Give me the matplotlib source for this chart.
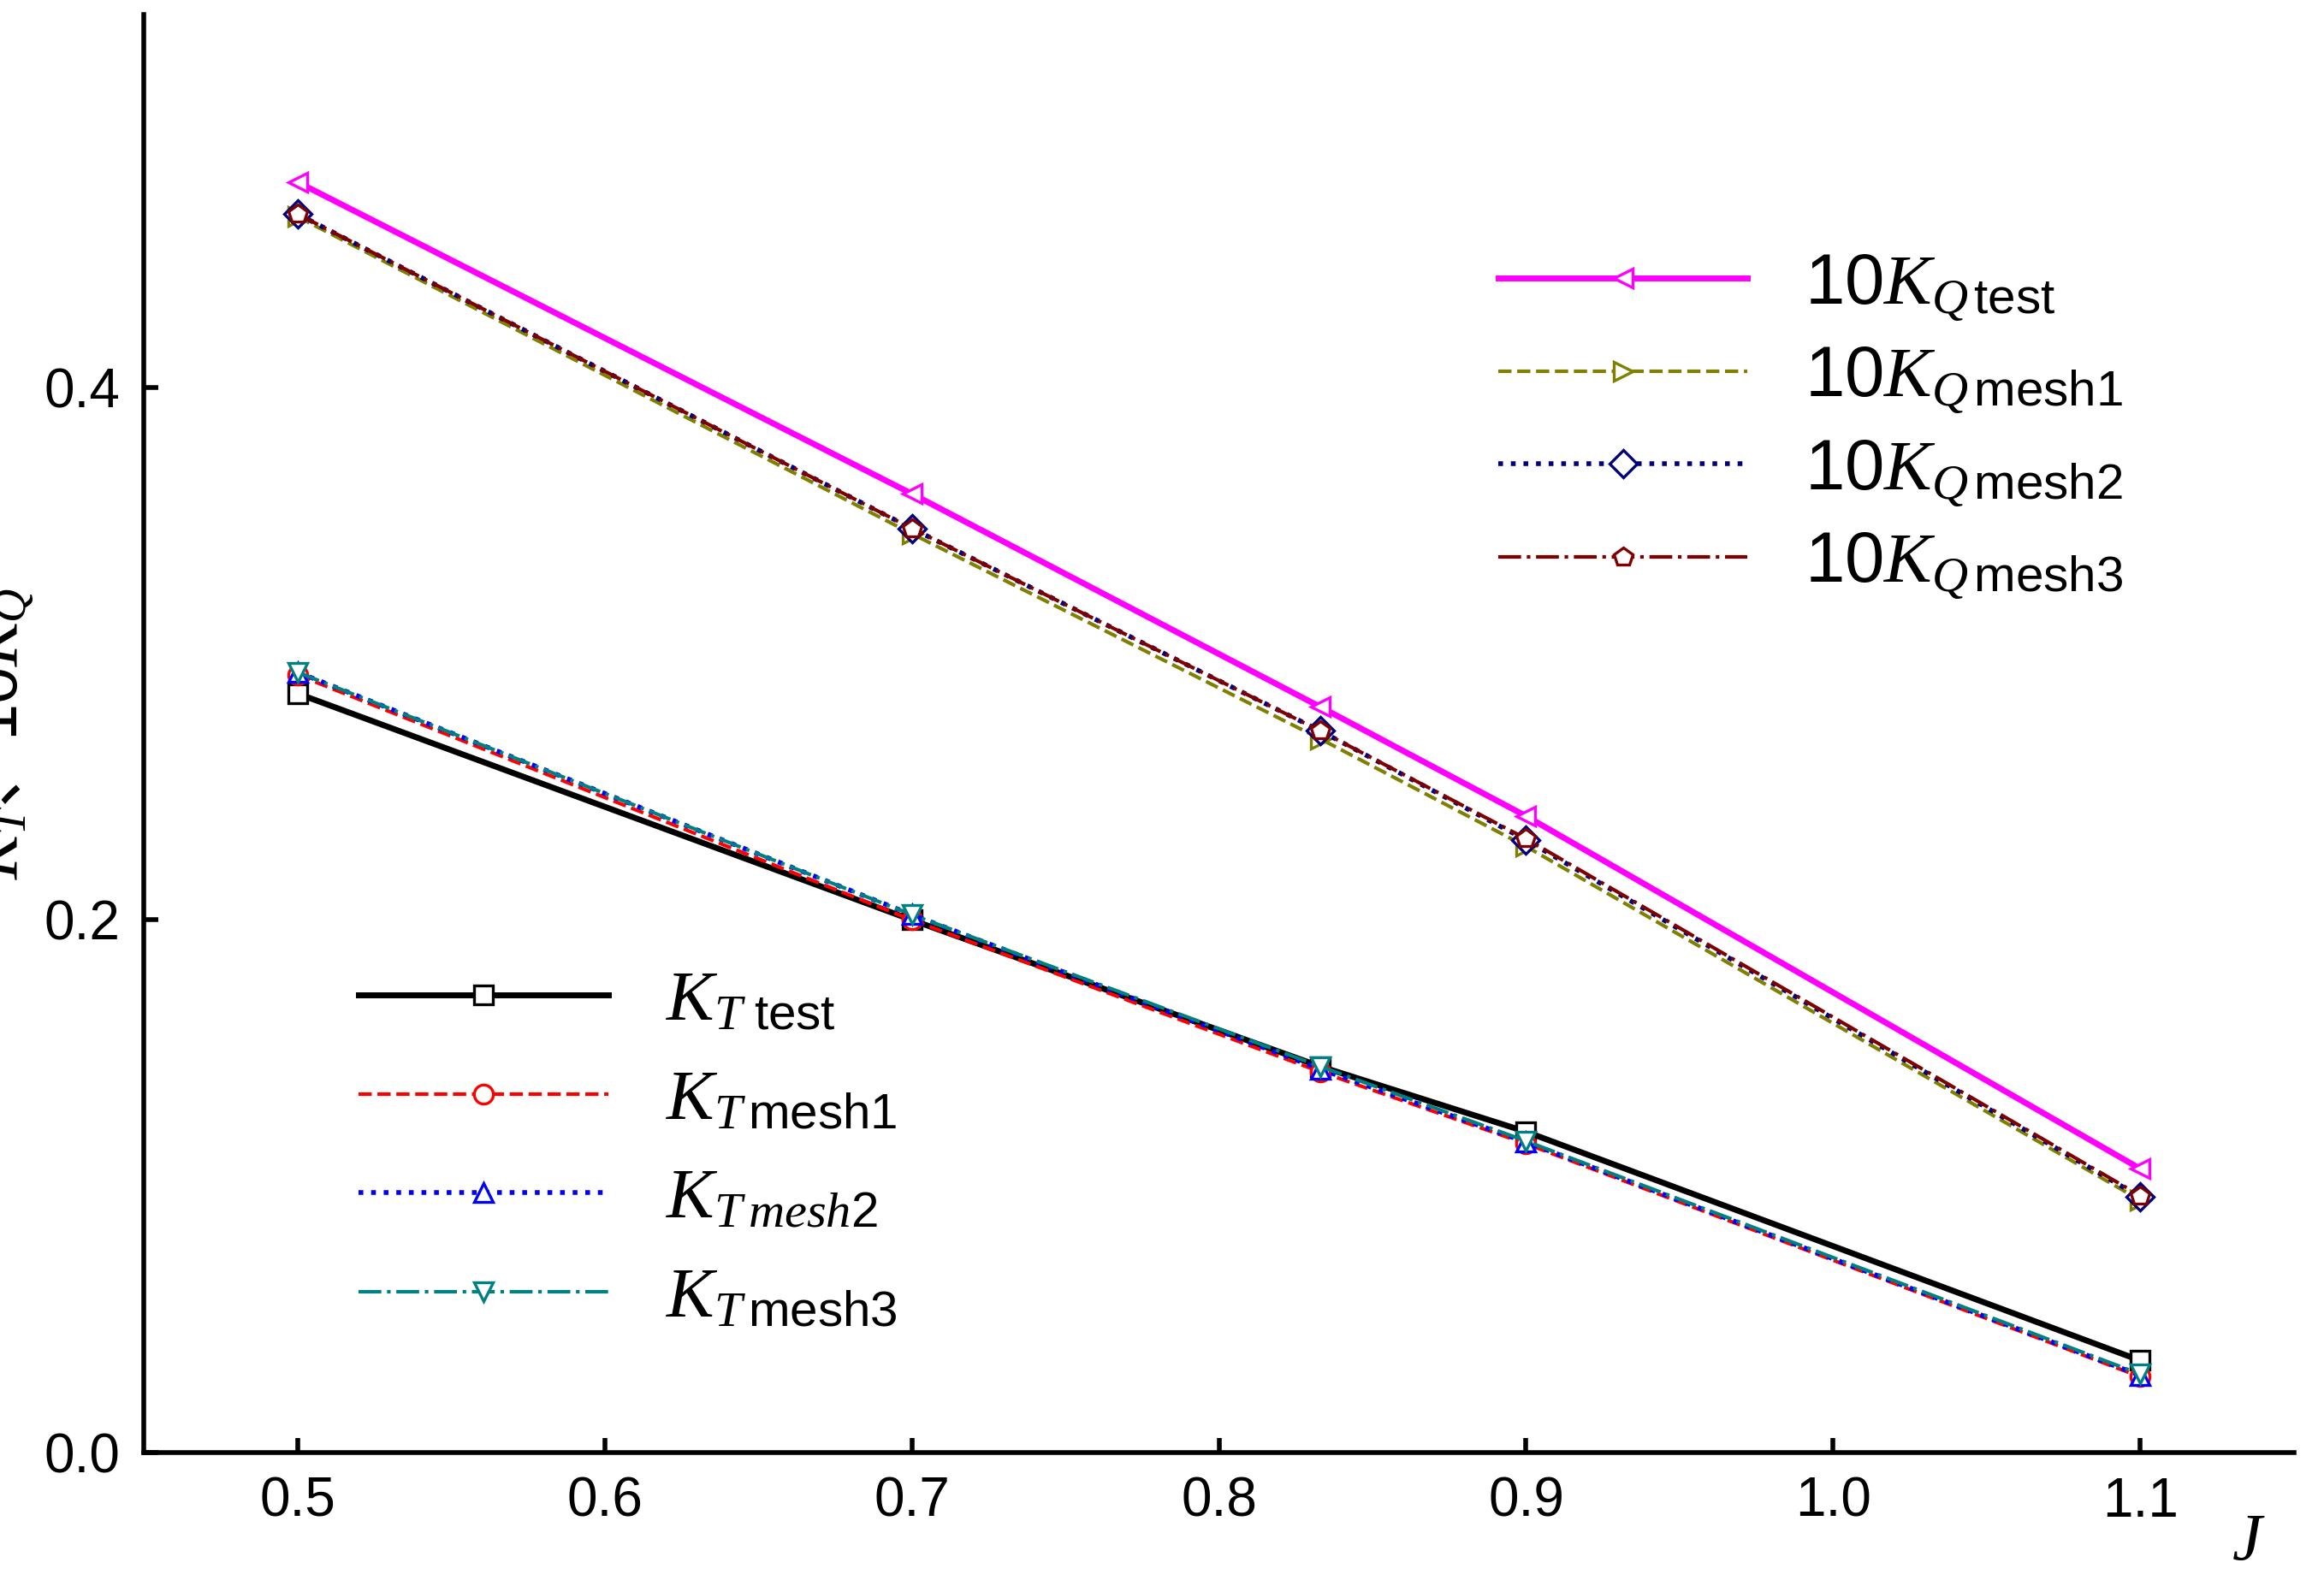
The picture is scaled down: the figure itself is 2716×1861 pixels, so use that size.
import matplotlib
matplotlib.use('Agg')
import matplotlib.pyplot as plt

J = [0.5, 0.7, 0.833, 0.9, 1.1]
kt_test = [0.285, 0.200, 0.145, 0.1205, 0.0346]
kt_mesh1 = [0.292, 0.200, 0.143, 0.1160, 0.0285]
kt_mesh2 = [0.293, 0.202, 0.144, 0.1166, 0.0290]
kt_mesh3 = [0.293, 0.202, 0.145, 0.1170, 0.0295]
kq_test = [0.477, 0.360, 0.280, 0.239, 0.1066]
kq_mesh1 = [0.464, 0.345, 0.268, 0.2276, 0.0948]
kq_mesh2 = [0.465, 0.347, 0.271, 0.230, 0.0960]
kq_mesh3 = [0.465, 0.347, 0.271, 0.2305, 0.0965]

plt.rcParams['font.family'] = ['Liberation Sans', 'DejaVu Sans']
plt.rcParams['mathtext.fontset'] = 'custom'
plt.rcParams['mathtext.it'] = 'Liberation Serif:italic'
plt.rcParams['mathtext.rm'] = 'Liberation Sans'
fig = plt.figure(figsize=(13.58, 9.305), dpi=200)
ax = fig.add_axes([0.062, 0.0875, 0.925, 0.9035])
ms = 8
kw = dict(markersize=ms, markerfacecolor='white', markeredgewidth=1.2)
l1, = ax.plot(J, kt_test, '-', color='black', lw=2.5, marker='s', **kw)
l2, = ax.plot(J, kt_mesh1, '--', color='red', lw=1.5, marker='o', **kw)
l3, = ax.plot(J, kt_mesh2, ':', color='blue', lw=2, marker='^', **kw)
l4, = ax.plot(J, kt_mesh3, '-.', color='#008080', lw=1.5, marker='v', **kw)
q1, = ax.plot(J, kq_test, '-', color='magenta', lw=2.5, marker='<', **kw)
q2, = ax.plot(J, kq_mesh1, '--', color='#808000', lw=1.5, marker='>', **kw)
q3, = ax.plot(J, kq_mesh2, ':', color='#000080', lw=2, marker='D', **kw)
q4, = ax.plot(J, kq_mesh3, '-.', color='#800000', lw=1.5, marker='p', **kw)

ax.set_xlim(0.45, 1.15)
ax.set_ylim(0, 0.54)
ax.set_xticks([0.5, 0.6, 0.7, 0.8, 0.9, 1.0, 1.1])
ax.set_yticks([0.0, 0.2, 0.4])
ax.tick_params(labelsize=23, width=2, length=6, direction='in', pad=10)
for s in ['top', 'right']:
    ax.spines[s].set_visible(False)
for s in ['left', 'bottom']:
    ax.spines[s].set_linewidth(2)
ax.set_ylabel(r'$K_T$、$10K_Q$', fontsize=28, family='Noto Sans CJK SC')
ax.text(1.13, -0.04, 'J', fontsize=28, style='italic', family='Liberation Serif')

leg1 = ax.legend([l1, l2, l3, l4],
                 [r'$K_{T\ \mathrm{test}}$', r'$K_{T\,\mathrm{mesh1}}$', r'$K_{T\,mesh2}$', r'$K_{T\,\mathrm{mesh3}}$'],
                 loc='lower left', bbox_to_anchor=(0.07, 0.04), frameon=False, fontsize=30,
                 handlelength=3.5, labelspacing=0.45)
ax.add_artist(leg1)
ax.legend([q1, q2, q3, q4],
          [r'$10K_{Q\,\mathrm{test}}$', r'$10K_{Q\,\mathrm{mesh1}}$', r'$10K_{Q\,\mathrm{mesh2}}$', r'$10K_{Q\,\mathrm{mesh3}}$'],
          loc='upper left', bbox_to_anchor=(0.6, 0.88), frameon=False, fontsize=30,
          handlelength=3.5, labelspacing=0.3)
fig.savefig('out.png', dpi=200)
